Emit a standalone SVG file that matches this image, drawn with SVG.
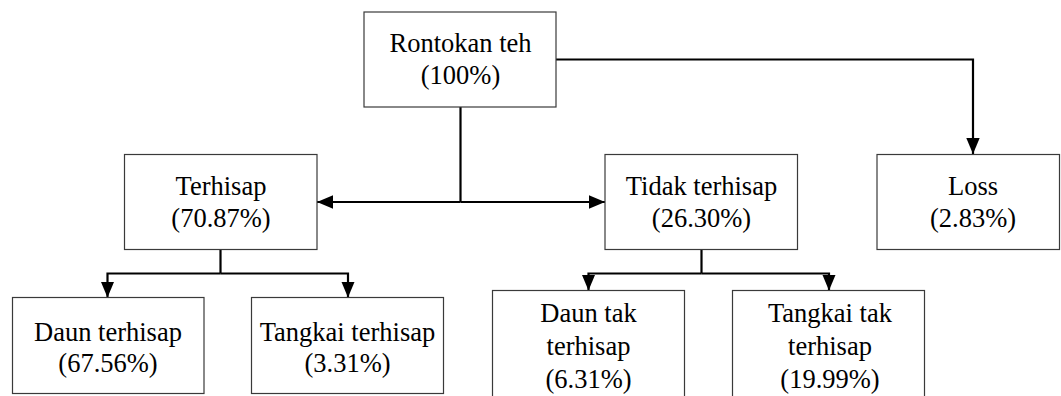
<svg xmlns="http://www.w3.org/2000/svg" width="1061" height="396" viewBox="0 0 1061 396">
<style>
.box{fill:#fff;stroke:#3a3a3a;stroke-width:1.2}
.lbl{font-family:"Liberation Serif","Times New Roman",serif;font-size:26.5px;fill:#000;text-anchor:middle}
.con{fill:none;stroke:#000;stroke-width:2.2}
</style>
<defs>
<marker id="ah" markerUnits="userSpaceOnUse" markerWidth="16" markerHeight="14" refX="16" refY="7" orient="auto">
<path d="M0,0.3 L16,7 L0,13.7 z" fill="#000"/>
</marker>
</defs>
<rect width="1061" height="396" fill="#fff"/>
<g id="connectors">
<path class="con" d="M556,59.5 H973 V154" marker-end="url(#ah)"/>
<path class="con" d="M460.5,107 V202"/>
<path class="con" d="M460.5,202 H317" marker-end="url(#ah)"/>
<path class="con" d="M460.5,202 H605" marker-end="url(#ah)"/>
<path class="con" d="M220.5,250 V273.5"/>
<path class="con" d="M220.5,273.5 H107.5 V297.5" marker-end="url(#ah)"/>
<path class="con" d="M220.5,273.5 H348 V297.5" marker-end="url(#ah)"/>
<path class="con" d="M701.5,250 V273.5"/>
<path class="con" d="M701.5,273.5 H588.5 V290.5" marker-end="url(#ah)"/>
<path class="con" d="M701.5,273.5 H829 V290.5" marker-end="url(#ah)"/>
</g>
<g id="rontokan">
<rect class="box" x="364" y="12" width="192" height="95"/>
<text class="lbl" x="460.5" y="52">Rontokan teh</text>
<text class="lbl" x="460.5" y="84">(100%)</text>
</g>
<g id="terhisap">
<rect class="box" x="124.5" y="154.5" width="192.5" height="95"/>
<text class="lbl" x="221" y="195">Terhisap</text>
<text class="lbl" x="221" y="227">(70.87%)</text>
</g>
<g id="tidak-terhisap">
<rect class="box" x="605" y="154.5" width="192.5" height="95"/>
<text class="lbl" x="701.5" y="195">Tidak terhisap</text>
<text class="lbl" x="701.5" y="227">(26.30%)</text>
</g>
<g id="loss">
<rect class="box" x="877" y="154.5" width="182.5" height="95"/>
<text class="lbl" x="973" y="195">Loss</text>
<text class="lbl" x="973" y="227">(2.83%)</text>
</g>
<g id="daun-terhisap">
<rect class="box" x="12.5" y="297.5" width="191.5" height="96"/>
<text class="lbl" x="108" y="341">Daun terhisap</text>
<text class="lbl" x="108" y="372">(67.56%)</text>
</g>
<g id="tangkai-terhisap">
<rect class="box" x="251.5" y="297.5" width="192" height="96"/>
<text class="lbl" x="347.5" y="341">Tangkai terhisap</text>
<text class="lbl" x="347.5" y="372">(3.31%)</text>
</g>
<g id="daun-tak-terhisap">
<rect class="box" x="492.5" y="290.5" width="192" height="115"/>
<text class="lbl" x="588.5" y="322">Daun tak</text>
<text class="lbl" x="588.5" y="355">terhisap</text>
<text class="lbl" x="588.5" y="388">(6.31%)</text>
</g>
<g id="tangkai-tak-terhisap">
<rect class="box" x="732.5" y="290.5" width="192" height="115"/>
<text class="lbl" x="830" y="322">Tangkai tak</text>
<text class="lbl" x="830" y="355">terhisap</text>
<text class="lbl" x="830" y="388">(19.99%)</text>
</g>
</svg>
